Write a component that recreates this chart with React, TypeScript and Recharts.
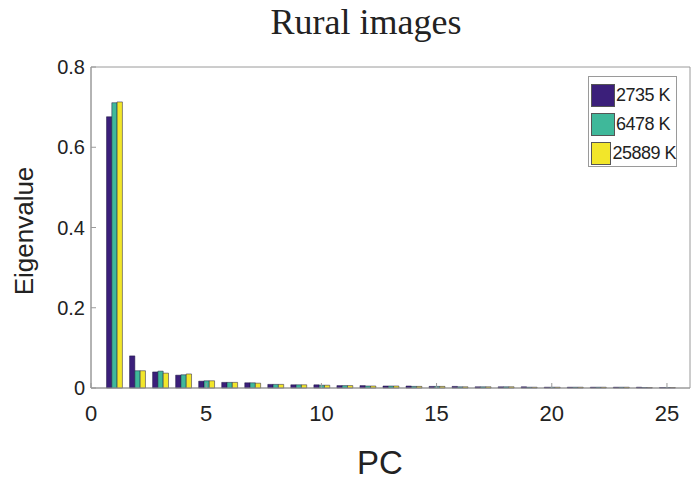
import {
    BarChart,
    Bar,
    XAxis,
    YAxis,
    Legend,
    ReferenceArea,
} from "recharts";

const pcs = [1, 2, 3, 4, 5, 6, 7, 8, 9, 10, 11, 12, 13, 14, 15, 16, 17, 18, 19, 20, 21, 22, 23, 24, 25];
const s2735 = [0.676, 0.08, 0.04, 0.032, 0.017, 0.014, 0.013, 0.009, 0.008, 0.008, 0.006, 0.006, 0.005, 0.005, 0.004, 0.004, 0.003, 0.003, 0.003, 0.002, 0.002, 0.002, 0.002, 0.002, 0.001];
const s6478 = [0.711, 0.043, 0.042, 0.033, 0.018, 0.014, 0.013, 0.009, 0.008, 0.007, 0.006, 0.005, 0.005, 0.004, 0.004, 0.003, 0.003, 0.003, 0.002, 0.002, 0.002, 0.002, 0.002, 0.001, 0.001];
const s25889 = [0.713, 0.043, 0.037, 0.035, 0.018, 0.014, 0.012, 0.009, 0.008, 0.007, 0.006, 0.005, 0.005, 0.004, 0.004, 0.003, 0.003, 0.003, 0.002, 0.002, 0.002, 0.002, 0.002, 0.001, 0.001];
const xTicks = [0, 5, 10, 15, 20, 25];
const yTicks = [0, 0.2, 0.4, 0.6, 0.8];

const series = [
    { key: "a", name: "2735 K", color: "#3b1f7a" },
    { key: "b", name: "6478 K", color: "#3fb89a" },
    { key: "c", name: "25889 K", color: "#f2e62a" },
];

const data = pcs.map((pc, i) => ({ pc, a: s2735[i], b: s6478[i], c: s25889[i] }));

const sans = "'Liberation Sans', Arial, sans-serif";

function LegendBox() {
    return (
        <div
            style={{
                width: 89,
                height: 91,
                border: "1px solid #9a9a9a",
                background: "#fff",
                boxSizing: "border-box",
                paddingTop: 4,
                paddingLeft: 2,
                fontFamily: sans,
            }}
        >
            {series.map((s) => (
                <div key={s.key} style={{ display: "flex", alignItems: "center", height: 29 }}>
                    <div
                        style={{
                            width: 24,
                            height: 23,
                            background: s.color,
                            border: "1px solid #555",
                            boxSizing: "border-box",
                        }}
                    />
                    <span style={{ fontSize: 18, color: "#222", marginLeft: 1, whiteSpace: "nowrap", letterSpacing: -0.5 }}>
                        {s.name}
                    </span>
                </div>
            ))}
        </div>
    );
}

export default function App() {
    return (
        <div style={{ position: "absolute", left: 0, top: 0, width: 696, height: 482, background: "#fff" }}>
            <div
                style={{
                    position: "absolute",
                    left: 0,
                    width: 732,
                    top: 1,
                    textAlign: "center",
                    fontFamily: "'Liberation Serif', 'Times New Roman', serif",
                    fontSize: 36,
                    color: "#222",
                }}
            >
                Rural images
            </div>
            <div
                style={{
                    position: "absolute",
                    left: 24,
                    top: 231,
                    transform: "translate(-50%, -50%) rotate(-90deg)",
                    fontFamily: sans,
                    fontSize: 26,
                    color: "#222",
                    whiteSpace: "nowrap",
                }}
            >
                Eigenvalue
            </div>
            <div
                style={{
                    position: "absolute",
                    left: 380,
                    top: 463,
                    transform: "translate(-50%, -50%)",
                    fontFamily: sans,
                    fontSize: 33,
                    color: "#222",
                }}
            >
                PC
            </div>
            <BarChart
                width={696}
                height={482}
                data={data}
                margin={{ top: 67, right: 6, bottom: 64, left: 31 }}
                barGap={0}
                barSize={5.3}
            >
                <XAxis
                    dataKey="pc"
                    type="number"
                    domain={[0, 26]}
                    ticks={xTicks}
                    allowDataOverflow
                    height={30}
                    stroke="#9a9a9a"
                    tickSize={-5}
                    tickMargin={22}
                    tick={{ fill: "#222", fontSize: 22, fontFamily: sans }}
                />
                <XAxis
                    xAxisId="top"
                    orientation="top"
                    type="number"
                    domain={[0, 26]}
                    ticks={xTicks}
                    height={0}
                    stroke="#9a9a9a"
                    tickSize={-5}
                    tick={false}
                />
                <YAxis
                    type="number"
                    domain={[0, 0.8]}
                    ticks={yTicks}
                    width={60}
                    stroke="#9a9a9a"
                    tickSize={-5}
                    tickMargin={11}
                    tickFormatter={(v: number) => (v === 0 ? "0" : String(Number(v.toFixed(1))))}
                    tick={{ fill: "#222", fontSize: 20, fontFamily: sans }}
                />
                <YAxis
                    yAxisId="right"
                    orientation="right"
                    type="number"
                    domain={[0, 0.8]}
                    ticks={yTicks}
                    width={0}
                    stroke="#9a9a9a"
                    tickSize={-5}
                    tick={false}
                />
                <ReferenceArea
                    x1={0}
                    x2={26}
                    y1={0}
                    y2={0.8}
                    fill="none"
                    stroke="#9a9a9a"
                    strokeWidth={1}
                    ifOverflow="visible"
                />
                {series.map((s) => (
                    <Bar
                        key={s.key}
                        dataKey={s.key}
                        name={s.name}
                        fill={s.color}
                        stroke="#1c1640"
                        strokeWidth={0.5}
                        isAnimationActive={false}
                    />
                ))}
                <Legend
                    layout="vertical"
                    align="center"
                    verticalAlign="middle"
                    content={() => <LegendBox />}
                    wrapperStyle={{ position: "absolute", left: 588, top: 76, width: 89 }}
                />
            </BarChart>
        </div>
    );
}
